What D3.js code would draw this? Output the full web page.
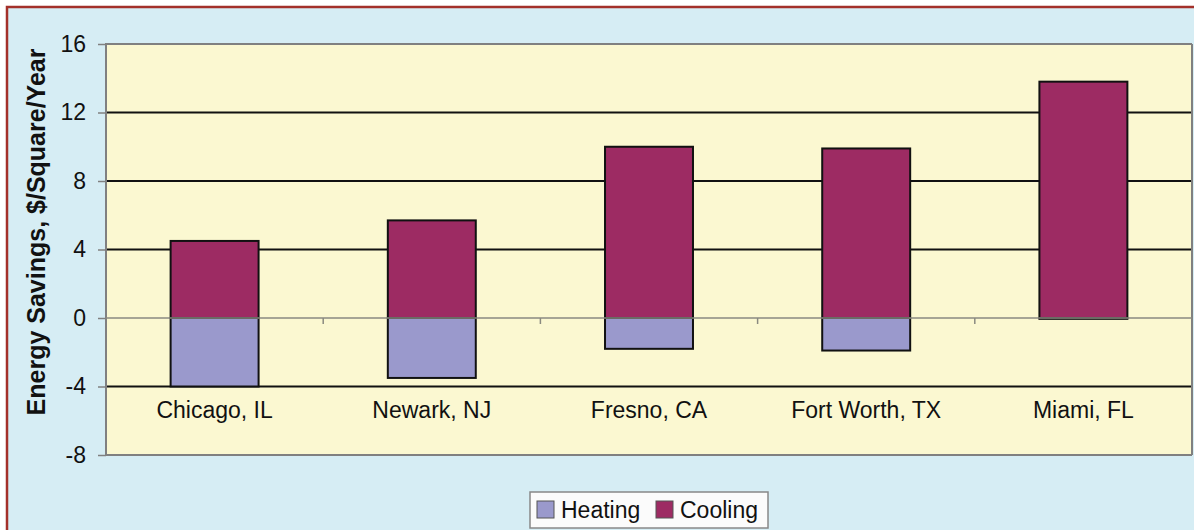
<!DOCTYPE html>
<html>
<head>
<meta charset="utf-8">
<script src="https://cdn.jsdelivr.net/npm/d3@7"></script>
<style>
  body { margin: 0; background: #fff; }
  svg { display: block; font-family: Arial, "Liberation Sans", sans-serif; }
</style>
</head>
<body>
<div id="chart"></div>
<script>
var cities = ["Chicago, IL", "Newark, NJ", "Fresno, CA", "Fort Worth, TX", "Miami, FL"];
var heating = [-4.0, -3.5, -1.8, -1.9, -0.05];
var cooling = [4.5, 5.7, 10.0, 9.9, 13.8];
var yTicks = [-8, -4, 0, 4, 8, 12, 16];
var seriesNames = ["Heating", "Cooling"];

var width = 1194, height = 530;
var margin = {top: 44, right: 2, bottom: 75, left: 106};
var colors = {Heating: "#9a99cc", Cooling: "#9d2b63"};

var svg = d3.select("#chart").append("svg")
  .attr("width", width)
  .attr("height", height);

// outer panel with red border
svg.append("rect")
  .attr("x", 7).attr("y", 7)
  .attr("width", width + 10).attr("height", height + 10)
  .attr("fill", "#d6edf4")
  .attr("stroke", "#a3302a")
  .attr("stroke-width", 2.5);

var x = d3.scaleBand()
  .domain(cities)
  .range([margin.left, width - margin.right])
  .paddingInner(0.595)
  .paddingOuter(0.2975);

var xStep = (width - margin.right - margin.left) / cities.length;

var y = d3.scaleLinear()
  .domain([-8, 16])
  .range([height - margin.bottom, margin.top]);

// plot background
svg.append("rect")
  .attr("x", margin.left)
  .attr("y", y(16))
  .attr("width", width - margin.right - margin.left)
  .attr("height", y(-8) - y(16))
  .attr("fill", "#fbf8d1");

// black gridlines
svg.append("g")
  .selectAll("line")
  .data([12, 8, 4, -4])
  .enter().append("line")
  .attr("x1", margin.left)
  .attr("x2", width - margin.right)
  .attr("y1", function(d) { return y(d); })
  .attr("y2", function(d) { return y(d); })
  .style("stroke", "#111")
  .style("stroke-width", 2);

// plot border (top, left, bottom)
svg.append("path")
  .attr("d", "M" + (width - margin.right) + "," + y(16) + "H" + margin.left + "V" + y(-8) + "H" + (width - margin.right))
  .attr("fill", "none")
  .style("stroke", "#808080")
  .style("stroke-width", 2);
svg.append("line")
  .attr("x1", width - margin.right).attr("x2", width - margin.right)
  .attr("y1", y(16)).attr("y2", y(-8))
  .style("stroke", "#808080")
  .style("stroke-width", 2);

// y axis
var yAxis = svg.append("g")
  .attr("transform", "translate(" + margin.left + ",0)")
  .call(d3.axisLeft(y).tickValues(yTicks).tickSize(8).tickPadding(12)
    .tickFormat(function(d) { return String(d); }));
yAxis.attr("font-size", null).attr("font-family", null);
yAxis.select(".domain").remove();
yAxis.selectAll(".tick line").style("stroke", "#808080").style("stroke-width", 1.5);
yAxis.selectAll(".tick text")
  .attr("fill", "#111")
  .style("font-size", "23px")
  .style("font-family", "Arial, 'Liberation Sans', sans-serif");

// stacked bars
var rows = cities.map(function(c, i) {
  return {city: c, Heating: heating[i], Cooling: cooling[i]};
});

var barGroup = svg.append("g").attr("class", "bars");

barGroup.selectAll("rect.cool")
  .data(rows)
  .enter().append("rect")
  .attr("class", "cool")
  .attr("x", function(d) { return x(d.city); })
  .attr("y", function(d) { return y(d.Cooling); })
  .attr("width", x.bandwidth())
  .attr("height", function(d) { return y(0) - y(d.Cooling); })
  .attr("fill", colors.Cooling)
  .attr("stroke", "#111")
  .attr("stroke-width", 2);

// zero axis line with ticks between categories
svg.append("line")
  .attr("x1", margin.left).attr("x2", width - margin.right)
  .attr("y1", y(0)).attr("y2", y(0))
  .style("stroke", "#8a8a80")
  .style("stroke-width", 1.5);

svg.append("g")
  .selectAll("line")
  .data(cities.slice(1))
  .enter().append("line")
  .attr("x1", function(d) { return x(d) - (xStep - x.bandwidth()) / 2; })
  .attr("x2", function(d) { return x(d) - (xStep - x.bandwidth()) / 2; })
  .attr("y1", y(0))
  .attr("y2", y(0) + 6)
  .style("stroke", "#8a8a80")
  .style("stroke-width", 1.5);

barGroup.selectAll("rect.heat")
  .data(rows)
  .enter().append("rect")
  .attr("class", "heat")
  .attr("x", function(d) { return x(d.city); })
  .attr("y", y(0))
  .attr("width", x.bandwidth())
  .attr("height", function(d) { return y(d.Heating) - y(0); })
  .attr("fill", colors.Heating)
  .attr("stroke", "#111")
  .attr("stroke-width", 2);

// category labels
svg.append("g")
  .selectAll("text")
  .data(cities)
  .enter().append("text")
  .attr("x", function(d) { return x(d) + x.bandwidth() / 2; })
  .attr("y", 418)
  .attr("text-anchor", "middle")
  .attr("font-size", 23)
  .attr("fill", "#111")
  .text(function(d) { return d; });

// y axis title
svg.append("text")
  .attr("transform", "translate(45,232) rotate(-90)")
  .attr("text-anchor", "middle")
  .attr("font-size", 25)
  .attr("font-weight", "bold")
  .attr("fill", "#111")
  .text("Energy Savings, $/Square/Year");

// legend
var legend = svg.append("g").attr("transform", "translate(530,492)");
legend.append("rect")
  .attr("x", 0).attr("y", 0)
  .attr("width", 238).attr("height", 36)
  .attr("fill", "#fbfbfb")
  .attr("stroke", "#888")
  .attr("stroke-width", 1.5);

var legendX = [7, 126];
var items = legend.selectAll("g.item")
  .data(seriesNames)
  .enter().append("g")
  .attr("class", "item")
  .attr("transform", function(d, i) { return "translate(" + legendX[i] + ",0)"; });

items.append("rect")
  .attr("x", 0).attr("y", 9)
  .attr("width", 17).attr("height", 17)
  .attr("fill", function(d) { return colors[d]; })
  .attr("stroke", "#555")
  .attr("stroke-width", 1);

items.append("text")
  .attr("x", 24)
  .attr("y", 26)
  .attr("font-size", 23)
  .attr("fill", "#111")
  .text(function(d) { return d; });
</script>
</body>
</html>
